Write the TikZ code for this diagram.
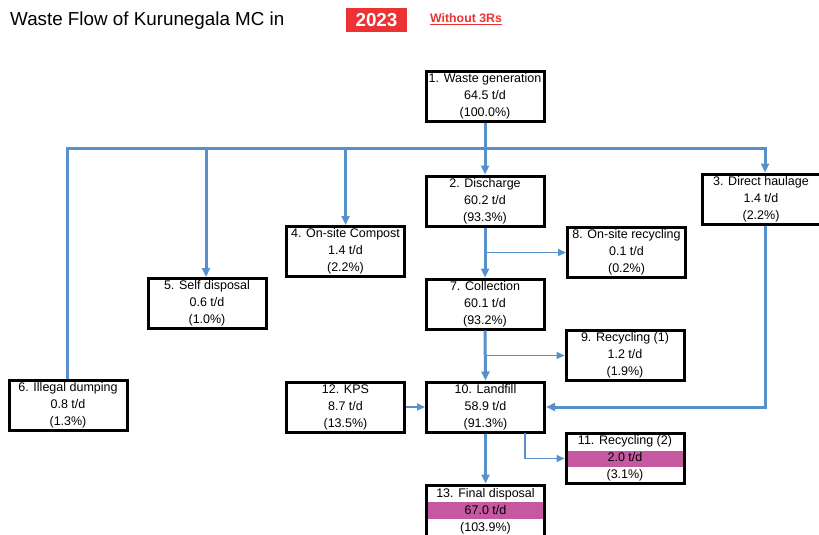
\documentclass[tikz,border=0pt]{standalone}
\usepackage{fontspec}
\setmainfont{Liberation Sans}
\usetikzlibrary{arrows.meta,calc}
\definecolor{flowblue}{RGB}{86,145,204}
\definecolor{boxmag}{RGB}{197,88,160}
\definecolor{yearred}{RGB}{236,50,50}
\tikzset{
  box/.style={draw=black,line width=3pt,minimum width=118pt,minimum height=50pt,inner sep=0pt,align=center,
    font=\fontsize{12.5}{17}\selectfont},
  thickflow/.style={draw=flowblue,line width=3pt,-{Triangle[length=9pt,width=8pt]}},
  thickline/.style={draw=flowblue,line width=3pt},
  thinflow/.style={draw=flowblue,line width=1.8pt,-{Triangle[length=8pt,width=7pt]}},
}
\begin{document}
\begin{tikzpicture}[x=1pt,y=-1pt]
\useasboundingbox (0,0) rectangle (819,535);
% title
\node[anchor=base west,inner sep=0pt,font=\fontsize{18.8}{22}\selectfont] (title) at (10,26) {Waste Flow of Kurunegala MC in};
\node[fill=yearred,text=white,font=\bfseries\fontsize{18.8}{22}\selectfont,minimum width=61pt,minimum height=24pt,inner sep=0pt] (year) at (376.5,20) {2023};
\node[anchor=base west,inner sep=0pt,text=yearred,font=\bfseries\fontsize{12.3}{15}\selectfont] (w3r) at (430,23) {\underline{Without 3Rs}};
% magenta fills
\fill[boxmag] (567,451) rectangle (683,467);
\fill[boxmag] (427,502) rectangle (544,519);
% boxes
\node[box] (n1) at (485,96.5) {1. Waste generation\\64.5 t/d\\(100.0\%)};
\node[box] (n2) at (485,201) {2. Discharge\\60.2 t/d\\(93.3\%)};
\node[box] (n3) at (761,199) {3. Direct haulage\\1.4 t/d\\(2.2\%)};
\node[box] (n4) at (345.5,251.5) {4. On-site Compost\\1.4 t/d\\(2.2\%)};
\node[box] (n5) at (207,303.5) {5. Self disposal\\0.6 t/d\\(1.0\%)};
\node[box] (n6) at (68,405) {6. Illegal dumping\\0.8 t/d\\(1.3\%)};
\node[box] (n7) at (485,304) {7. Collection\\60.1 t/d\\(93.2\%)};
\node[box] (n8) at (626.5,252.5) {8. On-site recycling\\0.1 t/d\\(0.2\%)};
\node[box] (n9) at (625,355.5) {9. Recycling (1)\\1.2 t/d\\(1.9\%)};
\node[box] (n10) at (485.5,407) {10. Landfill\\58.9 t/d\\(91.3\%)};
\node[box] (n11) at (625,458.5) {11. Recycling (2)\\2.0 t/d\\(3.1\%)};
\node[box] (n12) at (345.5,407) {12. KPS\\8.7 t/d\\(13.5\%)};
\node[box,minimum height=52pt] (n13) at (485.5,511) {13. Final disposal\\67.0 t/d\\(103.9\%)};
% distribution line
\coordinate (hl) at (67,148.5);
\coordinate (hr) at (765,148.5);
\coordinate (h5) at (206,148.5);
\coordinate (h4) at (345.5,148.5);
\draw[thickline,line cap=rect] (hl) -- (hr);
\draw[thickline] (hl) -- (hl |- n6.north);
\draw[thickflow] (h5) -- (h5 |- n5.north);
\draw[thickflow] (h4) -- (h4 |- n4.north);
\draw[thickflow] (hr) -- (hr |- n3.north);
\draw[thickflow] (n1.south) -- (n2.north);
\draw[thickflow] (n2.south) -- (n7.north);
\draw[thickflow] (n7.south) -- (n10.north);
\draw[thickflow] (n10.south) -- (n13.north);
% direct haulage to landfill
\coordinate (d3) at (765,226);
\draw[thickflow] (d3) |- (n10.east);
% side branches
\coordinate (b8) at (485,252.5);
\coordinate (b9) at (485,355.5);
\coordinate (b11) at (525,433);
\draw[thinflow] (b8) -- (n8.west);
\draw[thinflow] (b9) -- (n9.west);
\draw[thinflow] (b11) |- (n11.west);
\draw[thinflow] (n12.east) -- (n10.west);
\end{tikzpicture}
\end{document}
